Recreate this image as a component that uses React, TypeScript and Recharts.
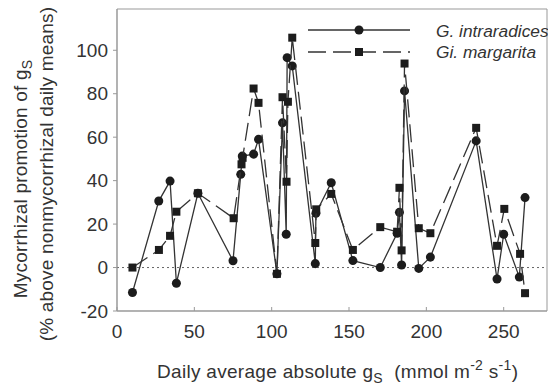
import React from 'react';
import { ScatterChart, Scatter, XAxis, YAxis, ZAxis, ReferenceLine, ReferenceArea } from 'recharts';

const intraX = [10, 27, 34.3, 38.4, 52.3, 75, 80, 81, 88.3, 91.5, 103.4, 107, 109.4, 110, 113.3, 128.2, 128.6, 138.5, 152.5, 170.2, 181.1, 182.6, 184, 185.9, 195.1, 202.6, 232.2, 245.7, 250, 260.1, 263.8];
const intraY = [-11.5, 30.6, 39.8, -7.2, 34.2, 3.1, 42.9, 51.3, 52.2, 59, -2.9, 66.6, 15.3, 96.6, 92.8, 1.8, 25, 39, 3.2, 0, 15.8, 25.4, 1.2, 81.3, -0.4, 4.8, 58.3, -5.3, 15.3, -4.4, 32.2];

const margX = [10, 27.1, 34.3, 38.4, 52.3, 75.4, 80.5, 81.2, 88.3, 91.5, 103.4, 107, 109.6, 110.5, 113.3, 128.2, 128.8, 138.5, 152.5, 170.2, 181.1, 182.6, 184, 185.9, 195.1, 202.6, 232.2, 245.7, 250.4, 260.6, 263.8];
const margY = [0, 8.1, 14.6, 25.7, 34.2, 22.7, 47.5, 50.5, 82.4, 75.8, -2.9, 78.4, 39.5, 76.3, 105.8, 11.3, 26.8, 33.9, 8.1, 18.6, 16.5, 36.7, 7.9, 93.9, 18.1, 15.8, 64.3, 10, 27, 6.3, -11.8];

const seriesNames = ['G. intraradices', 'Gi. margarita'];
const xTicks = [0, 50, 100, 150, 200, 250];
const yTicks = [-20, 0, 20, 40, 60, 80, 100];
const xDomain = [0, 278];
const yDomain = [-20, 119];

const intraData = intraX.map((x, i) => ({ x, y: intraY[i] }));
const margData = margX.map((x, i) => ({ x, y: margY[i] }));

const FONT = '"Liberation Sans", Arial, Helvetica, sans-serif';
const TXT = '#333';
const AX = '#999';
const LINE = '#333';
const MARK = '#1c1c1c';

export default function App() {
  return (
    <div style={{ position: 'absolute', left: 0, top: 0, width: 548, height: 386, background: '#fff', fontFamily: FONT }}>
      <ScatterChart width={548} height={386} margin={{ top: 9, right: 1, bottom: 0, left: 0 }}>
        <XAxis
          type="number"
          dataKey="x"
          domain={xDomain}
          ticks={xTicks}
          allowDataOverflow
          height={75}
          tickSize={-4}
          tickMargin={18}
          axisLine={{ stroke: AX }}
          tickLine={{ stroke: AX }}
          tick={{ fill: TXT, fontSize: 19, fontFamily: FONT }}
        />
        <YAxis
          type="number"
          dataKey="y"
          domain={yDomain}
          ticks={yTicks}
          allowDataOverflow
          width={117}
          tickSize={4}
          tickMargin={5}
          axisLine={{ stroke: AX }}
          tickLine={{ stroke: AX }}
          tick={{ fill: TXT, fontSize: 19, fontFamily: FONT }}
        />
        <ZAxis range={[70, 70]} />
        <ReferenceArea x1={xDomain[0]} x2={xDomain[1]} y1={yDomain[0]} y2={yDomain[1]} fill="none" stroke={AX} strokeWidth={1} />
        <ReferenceLine y={0} stroke="#666" strokeDasharray="2 3" strokeWidth={1} />
        <Scatter
          name={seriesNames[0]}
          data={intraData}
          shape="circle"
          fill={MARK}
          line={{ stroke: LINE, strokeWidth: 1.3 }}
          lineType="joint"
          isAnimationActive={false}
        />
        <Scatter
          name={seriesNames[1]}
          data={margData}
          shape="square"
          fill={MARK}
          line={{ stroke: LINE, strokeWidth: 1.3, strokeDasharray: '18 7' }}
          lineType="joint"
          isAnimationActive={false}
        />
      </ScatterChart>
      <svg width={548} height={386} style={{ position: 'absolute', left: 0, top: 0, pointerEvents: 'none' }}>
        <g fontFamily={FONT} fill={TXT}>
          <line x1={308} y1={30} x2={410} y2={30} stroke={LINE} strokeWidth={1.3} />
          <circle cx={359} cy={30} r={4.5} fill={MARK} />
          <text transform="translate(436,36.5) scale(1.05,1)" x={0} y={0} fontSize={16.5} fontStyle="italic">{seriesNames[0]}</text>
          <line x1={308} y1={52} x2={410} y2={52} stroke={LINE} strokeWidth={1.3} strokeDasharray="18 7" />
          <rect x={355} y={48} width={8} height={8} fill={MARK} />
          <text transform="translate(436,58) scale(1.05,1)" x={0} y={0} fontSize={16.5} fontStyle="italic">{seriesNames[1]}</text>

          <text x={157} y={378} fontSize={19} letterSpacing={0.3} style={{ whiteSpace: 'pre' }}>
            Daily average absolute g<tspan dy={5} fontSize={14}>S</tspan>
            <tspan dy={-5}>{'  (mmol m'}</tspan>
            <tspan dy={-8} fontSize={14}>-2</tspan>
            <tspan dy={8}>{' s'}</tspan>
            <tspan dy={-8} fontSize={14}>-1</tspan>
            <tspan dy={8}>)</tspan>
          </text>

          <text x={27} y={179} fontSize={19} letterSpacing={0.2} textAnchor="middle" transform="rotate(-90, 27, 179)">
            Mycorrhizal promotion of g<tspan dy={5} fontSize={14}>S</tspan>
          </text>
          <text x={53} y={174} fontSize={19} letterSpacing={0.2} textAnchor="middle" transform="rotate(-90, 53, 174)">
            (% above nonmycorrhizal daily means)
          </text>
        </g>
      </svg>
    </div>
  );
}
